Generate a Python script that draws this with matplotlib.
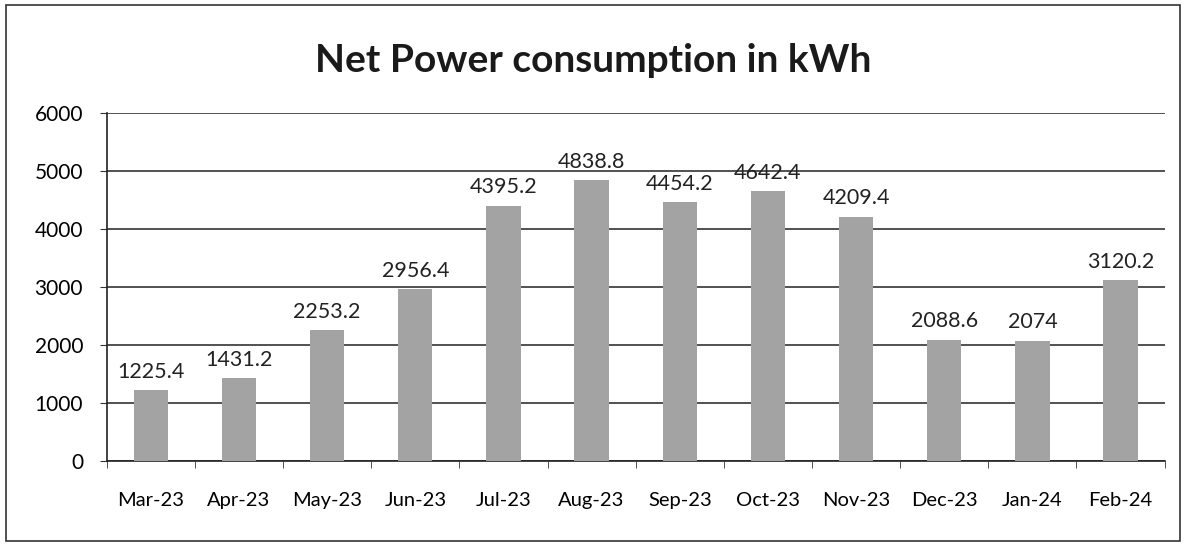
import numpy as np
import matplotlib.pyplot as plt
from matplotlib.patches import Rectangle

plt.rcParams['font.family'] = ['Lato', 'DejaVu Sans']

months = ['Mar-23', 'Apr-23', 'May-23', 'Jun-23', 'Jul-23', 'Aug-23',
          'Sep-23', 'Oct-23', 'Nov-23', 'Dec-23', 'Jan-24', 'Feb-24']
consumption = [1225.4, 1431.2, 2253.2, 2956.4, 4395.2, 4838.8,
               4454.2, 4642.4, 4209.4, 2088.6, 2074, 3120.2]
value_labels = ['1225.4', '1431.2', '2253.2', '2956.4', '4395.2', '4838.8',
                '4454.2', '4642.4', '4209.4', '2088.6', '2074', '3120.2']
y_ticks = [0, 1000, 2000, 3000, 4000, 5000, 6000]

fig = plt.figure(figsize=(11.86, 5.49), dpi=100)
ax = fig.add_axes([0.09, 0.16, 0.892, 0.635])

x = np.arange(len(months))
ax.bar(x, consumption, width=0.39, color='#a3a3a3', zorder=3)

for xi, v, lab in zip(x, consumption, value_labels):
    ax.annotate(lab, (xi, v), xytext=(0, 6), textcoords='offset points',
                ha='center', va='bottom', fontsize=15.5, color='#222222')

ax.set_xlim(-0.5, len(months) - 0.5)
ax.set_ylim(0, 6000)
ax.set_yticks(y_ticks)
ax.set_yticklabels([str(t) for t in y_ticks], fontsize=15)
ax.yaxis.grid(True, color='#333333', linewidth=1.2, zorder=0)

ax.set_xticks(x)
ax.set_xticklabels(months, fontsize=14.5)
ax.set_xticks(np.arange(-0.5, len(months)), minor=True)
ax.tick_params(axis='x', which='major', length=0, pad=22)
ax.tick_params(axis='x', which='minor', length=5, color='#333333')
ax.tick_params(axis='y', length=5, pad=12, color='#333333')

for side in ['top', 'right']:
    ax.spines[side].set_visible(False)
ax.spines['left'].set_color('#222222')
ax.spines['bottom'].set_color('#222222')
ax.spines['left'].set_linewidth(1.2)
ax.spines['bottom'].set_linewidth(1.2)

fig.text(0.5, 0.89, 'Net Power consumption in kWh', ha='center', va='center',
         fontsize=28, fontweight='bold', color='#1a1a1a')

# outer chart frame
fig.patches.append(Rectangle((0.005, 0.015), 0.99, 0.975, transform=fig.transFigure,
                             fill=False, edgecolor='#333333', linewidth=1.2))

fig.savefig('out.png', dpi=100, facecolor='white')
